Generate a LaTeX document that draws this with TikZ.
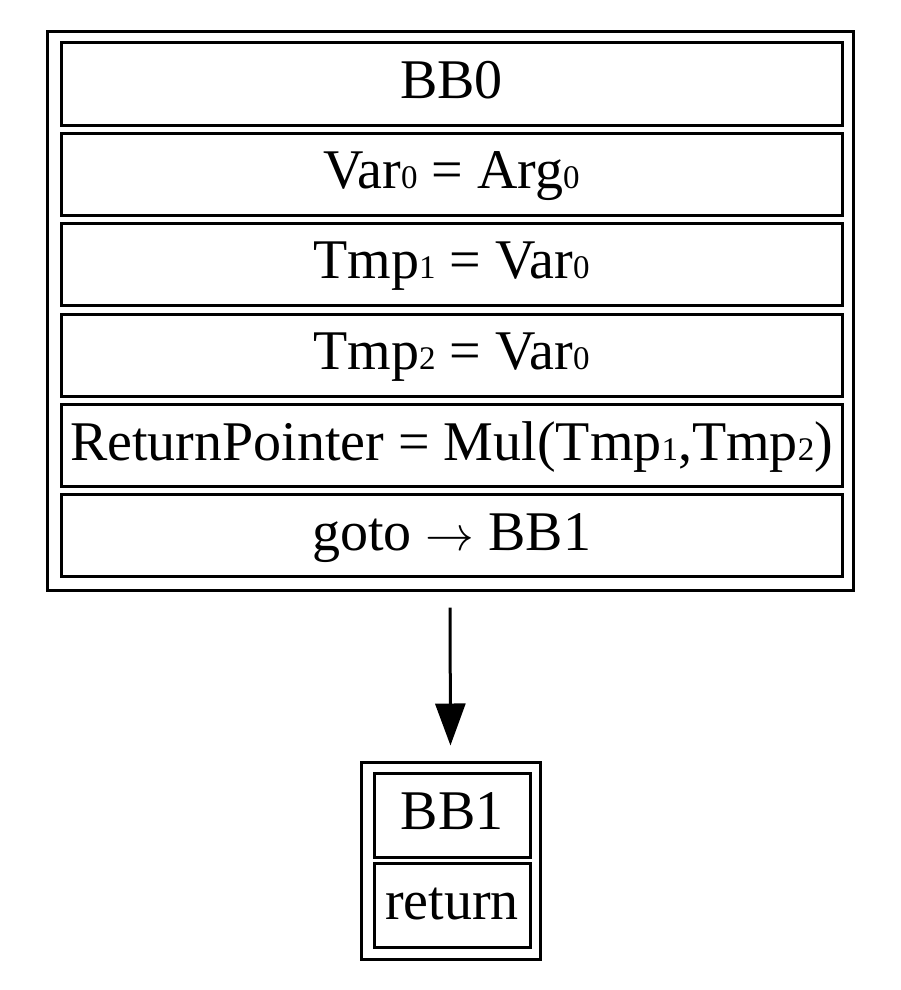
\documentclass[tikz,border=0pt]{standalone}
\usepackage{graphicx}
\usepackage{fontspec}
\setmainfont{Liberation Serif}
\usetikzlibrary{arrows.meta}
\newcommand{\sbd}[1]{{\fontsize{33}{33}\selectfont #1}}
\newcommand{\rarr}{{\fontsize{20}{20}\selectfont\scalebox{2.35}{$\rightarrow$}}}
\tikzset{
  outerbox/.style={draw, line width=3pt, rectangle, inner sep=0pt},
  cell/.style={draw, line width=3pt, rectangle, inner sep=0pt,
    text height=41pt, text depth=12pt, font=\fontsize{56}{60}\selectfont},
  edge/.style={line width=3pt, -{Triangle[length=42pt,width=30pt]}}
}
\begin{document}
\begin{tikzpicture}[x=1pt,y=-1pt]
\useasboundingbox (0,0) rectangle (900,990);
% BB0
\node[outerbox, minimum width=806pt, minimum height=558pt] (bb0) at (450,311) {};
\node[cell, minimum width=781pt, minimum height=82pt] (c0) at (451.5,84) {BB0};
\node[cell, minimum width=781pt, minimum height=82pt] (c1) at (451.5,174) {Var\sbd{0} = Arg\sbd{0}};
\node[cell, minimum width=781pt, minimum height=82pt] (c2) at (451.5,264) {Tmp\sbd{1} = Var\sbd{0}};
\node[cell, minimum width=781pt, minimum height=82pt] (c3) at (451.5,355) {Tmp\sbd{2} = Var\sbd{0}};
\node[cell, minimum width=781pt, minimum height=82pt] (c4) at (451.5,445.5) {ReturnPointer = Mul(Tmp\sbd{1},Tmp\sbd{2})};
\node[cell, minimum width=781pt, minimum height=82pt] (c5) at (451.5,535.5) {goto \rarr{} BB1};
% BB1
\node[outerbox, minimum width=179pt, minimum height=197pt] (bb1) at (450.5,860.5) {};
\node[cell, minimum width=156pt, minimum height=84pt] (d0) at (452,815) {BB1};
\node[cell, minimum width=156pt, minimum height=84pt] (d1) at (452,905) {return};
% edge
\draw[edge, shorten <=16pt, shorten >=15pt] (bb0.south) -- (bb1.north);
\end{tikzpicture}
\end{document}
